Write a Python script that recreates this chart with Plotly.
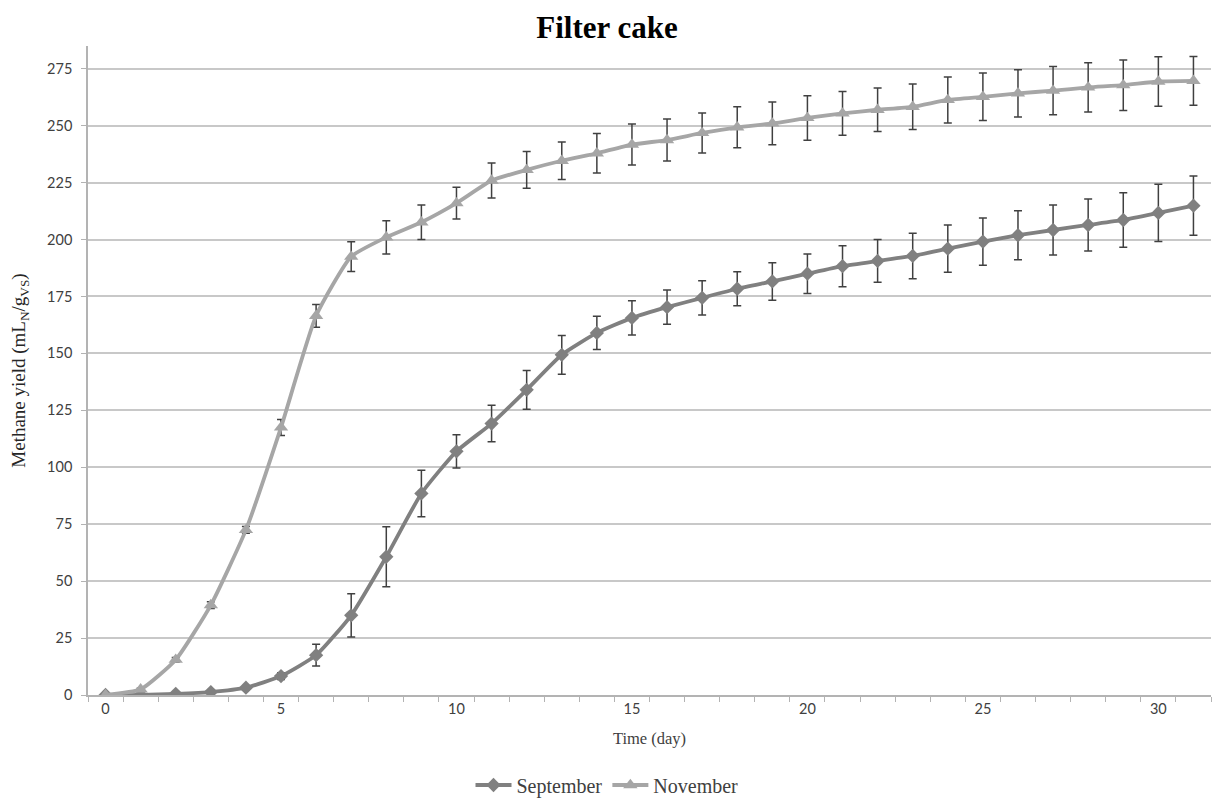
import plotly.graph_objects as go

days = list(range(32))
september = [0, 0, 0.5, 1.3, 3.2, 8.3, 17.5, 35, 60.7, 88.5, 107, 119.2, 134, 149.4, 159, 165.6,
             170.3, 174.4, 178.4, 181.6, 185, 188.3, 190.6, 192.8, 196, 199.1, 201.9, 204.2,
             206.4, 208.6, 211.7, 214.9]
september_err = [0, 0, 0.3, 0.5, 0.8, 1.5, 4.8, 9.5, 13.2, 10.2, 7.3, 8, 8.5, 8.5, 7.3, 7.5,
                 7.5, 7.5, 7.5, 8.2, 8.7, 9, 9.4, 10, 10.4, 10.4, 10.8, 11, 11.4, 12, 12.6, 13]
november = [0, 2.5, 15.5, 39.5, 72.5, 117.5, 166.5, 192.5, 201, 207.6, 216, 225.9, 230.6, 234.6,
            237.9, 241.7, 243.7, 246.8, 249.3, 251, 253.4, 255.4, 257, 258.3, 261.3, 262.7,
            264.2, 265.4, 266.8, 267.8, 269.4, 269.7]
november_err = [0, 0.5, 1, 1.5, 1.5, 3.5, 5, 6.5, 7.3, 7.6, 7, 7.7, 8.1, 8.2, 8.7, 9, 9.2, 8.8,
                9, 9.4, 9.8, 9.6, 9.6, 10, 10.1, 10.4, 10.4, 10.6, 10.8, 11.1, 10.9, 10.7]
x_tick_vals = [0, 5, 10, 15, 20, 25, 30]
y_tick_vals = [0, 25, 50, 75, 100, 125, 150, 175, 200, 225, 250, 275]

serif = "Liberation Serif, Times New Roman, serif"
sans = "Lato, Carlito, sans-serif"

fig = go.Figure()
fig.add_trace(go.Scatter(
    x=days, y=september, name="September", mode="lines+markers",
    line=dict(color="#808080", width=3.8, shape="spline", smoothing=0.5),
    marker=dict(symbol="diamond", size=11, color="#808080"),
    error_y=dict(type="data", array=september_err, visible=True,
                 color="#404040", thickness=1.5, width=4),
))
fig.add_trace(go.Scatter(
    x=days, y=november, name="November", mode="lines+markers",
    line=dict(color="#a6a6a6", width=3.8, shape="spline", smoothing=0.5),
    marker=dict(symbol="triangle-up", size=12.5, color="#a6a6a6"),
    error_y=dict(type="data", array=november_err, visible=True,
                 color="#404040", thickness=1.5, width=4),
))

fig.update_layout(
    width=1214, height=800,
    margin=dict(l=88, r=3, t=46, b=105, autoexpand=False),
    paper_bgcolor="white", plot_bgcolor="white",
    title=dict(text="<b>Filter cake</b>", x=0.5, xanchor="center",
               y=1 - 27 / 800, yanchor="middle", yref="container",
               font=dict(family=serif, size=31, color="black")),
    showlegend=True,
    legend=dict(orientation="h", x=0.5, xanchor="center", xref="container",
                y=15 / 800, yanchor="middle", yref="container",
                font=dict(family=serif, size=20, color="#404040"),
                bgcolor="rgba(0,0,0,0)", traceorder="normal", itemwidth=36),
    xaxis=dict(
        range=[-0.5, 31.5], tickmode="array", tickvals=x_tick_vals,
        ticks="", showgrid=False, zeroline=False,
        showline=True, linecolor="#b3b3b3", linewidth=1.5,
        tickfont=dict(family=sans, size=14.5, color="#404040"),
        minor=dict(tick0=0.5, dtick=1, ticks="outside", ticklen=5, tickcolor="#b3b3b3", showgrid=False),
        title=dict(text="Time (day)", font=dict(family=serif, size=16.5, color="#404040"), standoff=16),
    ),
    yaxis=dict(
        range=[0, 285], tickmode="array", tickvals=y_tick_vals,
        ticks="outside", ticklen=5, tickcolor="#b3b3b3",
        showgrid=True, gridcolor="#c8c8c8", gridwidth=1.5, zeroline=False,
        showline=True, linecolor="#b3b3b3", linewidth=1.5,
        tickfont=dict(family=sans, size=14.5, color="#404040"),
        ticklabelstandoff=6,
        title=dict(text="Methane yield (mL<sub>N</sub>/g<sub>VS</sub>)",
                   font=dict(family=serif, size=19, color="#262626"), standoff=16),
    ),
)

fig.write_html("out.html")
